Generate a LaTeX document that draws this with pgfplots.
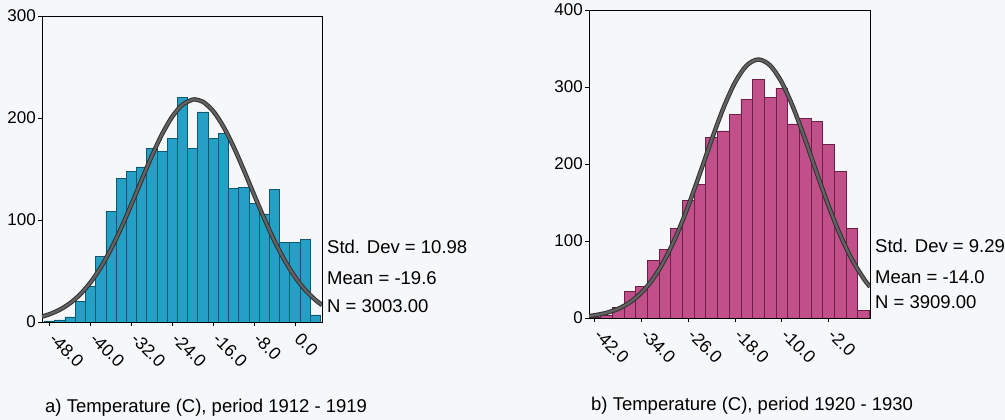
\documentclass[border=0pt]{standalone}
\usepackage{fontspec}
\setmainfont{Liberation Sans}
\usepackage{pgfplots}
\usepackage{pgfplotstable}
\pgfplotsset{compat=1.18}
\definecolor{tealA}{HTML}{24A0C6}
\definecolor{tealB}{HTML}{0F5870}
\definecolor{magA}{HTML}{C04F8A}
\definecolor{magB}{HTML}{6E1F48}
\definecolor{curveA}{HTML}{626262}
\definecolor{curveB}{HTML}{303030}
\definecolor{bg}{HTML}{F6F7F9}

\pgfplotstableread{
x y
-48 1
-46 2
-44 5
-42 20
-40 35
-38 64
-36 108
-34 141
-32 148
-30 152
-28 170
-26 167
-24 180
-22 220
-20 170
-18 206
-16 180
-14 185
-12 131
-10 132
-8 116
-6 106
-4 130
-2 78
0 78
2 81
4 7
}\barsA

\pgfplotstableread{
x y
-49.5 5.36
-48 7.69
-46 12.12
-44 18.48
-42 27.24
-40 38.85
-38 53.59
-36 71.53
-34 92.34
-32 115.33
-30 139.34
-28 162.85
-26 184.12
-24 201.38
-22 213.07
-20 218.08
-19.6 218.22
-18 215.91
-16 206.80
-14 191.61
-12 171.74
-10 148.91
-8 124.89
-6 101.34
-4 79.54
-2 60.39
0 44.36
2 31.52
4 21.66
5.3 16.68
}\curveA

\pgfplotstableread{
x y
-42 1
-40 3
-38 14
-36 34
-34 41
-32 75
-30 89
-28 116
-26 153
-24 173
-22 234
-20 243
-18 264
-16 284
-14 310
-12 286
-10 298
-8 252
-6 259
-4 255
-2 225
0 190
2 116
4 10
}\barsB

\pgfplotstableread{
x y
-43 2.57
-42 3.58
-40 6.69
-38 11.93
-36 20.33
-34 33.08
-32 51.38
-30 76.18
-28 107.86
-26 145.76
-24 188.09
-22 231.72
-20 272.52
-18 306.01
-16 328.04
-14 335.73
-12 328.04
-10 306.01
-8 272.52
-6 231.72
-4 188.09
-2 145.76
0 107.86
2 76.18
4 51.38
5.1 40.56
}\curveB

\begin{document}
\begin{tikzpicture}
\fill[bg] (0pt,0pt) rectangle (1005pt,420pt);
\useasboundingbox (0pt,0pt) rectangle (1005pt,420pt);
\pgfplotsset{
  histo/.style={
    scale only axis, anchor=south west,
    axis line style={black, line width=0.8pt},
    tick align=outside, major tick length=4pt,
    tick style={black, line width=0.8pt},
    xtick pos=bottom, ytick pos=left,
    ymin=0,
    yticklabel style={font=\fontsize{17}{20}\selectfont, inner sep=2pt},
    xticklabel style={font=\fontsize{17.5}{20}\selectfont, xshift=2pt, yshift=-9pt, rotate=-45, anchor=west, inner sep=1pt},
  },
  curvelo/.style={no marks, smooth, line width=4.4pt, curveB},
  curvehi/.style={no marks, smooth, line width=2.4pt, curveA},
}
% Left panel
\begin{axis}[histo,
  at={(42pt,98pt)}, width=280pt, height=306pt,
  xmin=-49.5, xmax=5.3, ymax=300,
  ytick={0,100,200,300}, yticklabels={0,100,200,300},
  xtick={-48,-40,-32,-24,-16,-8,0},
  xticklabels={-48.0,-40.0,-32.0,-24.0,-16.0,-8.0,0.0},
]
\addplot[ybar, bar width=2, bar shift=0pt, fill=tealA, draw=tealB, line width=0.7pt] table[x=x,y=y] {\barsA};
\addplot[curvelo] table[x=x,y=y] {\curveA};
\addplot[curvehi] table[x=x,y=y] {\curveA};
\end{axis}
% Right panel
\begin{axis}[histo,
  at={(589pt,102pt)}, width=281pt, height=308pt,
  xmin=-43, xmax=5.1, ymax=400,
  ytick={0,100,200,300,400}, yticklabels={0,100,200,300,400},
  xtick={-42,-34,-26,-18,-10,-2},
  xticklabels={-42.0,-34.0,-26.0,-18.0,-10.0,-2.0},
]
\addplot[ybar, bar width=2, bar shift=0pt, fill=magA, draw=magB, line width=0.7pt] table[x=x,y=y] {\barsB};
\addplot[curvelo] table[x=x,y=y] {\curveB};
\addplot[curvehi] table[x=x,y=y] {\curveB};
\end{axis}
% statistics text
\begin{scope}[every node/.style={anchor=west, inner sep=0pt, font=\fontsize{18.5}{22}\selectfont}]
\node at (327pt,173pt) {Std. Dev = 10.98};
\node at (327pt,142pt) {Mean = -19.6};
\node at (327pt,114pt) {N = 3003.00};
\node at (875pt,174pt) {Std. Dev = 9.29};
\node at (875pt,143pt) {Mean = -14.0};
\node at (875pt,118pt) {N = 3909.00};
\node at (45pt,12pt) {a) Temperature (C), period 1912 - 1919};
\node at (591pt,14pt) {b) Temperature (C), period 1920 - 1930};
\end{scope}
\end{tikzpicture}
\end{document}
